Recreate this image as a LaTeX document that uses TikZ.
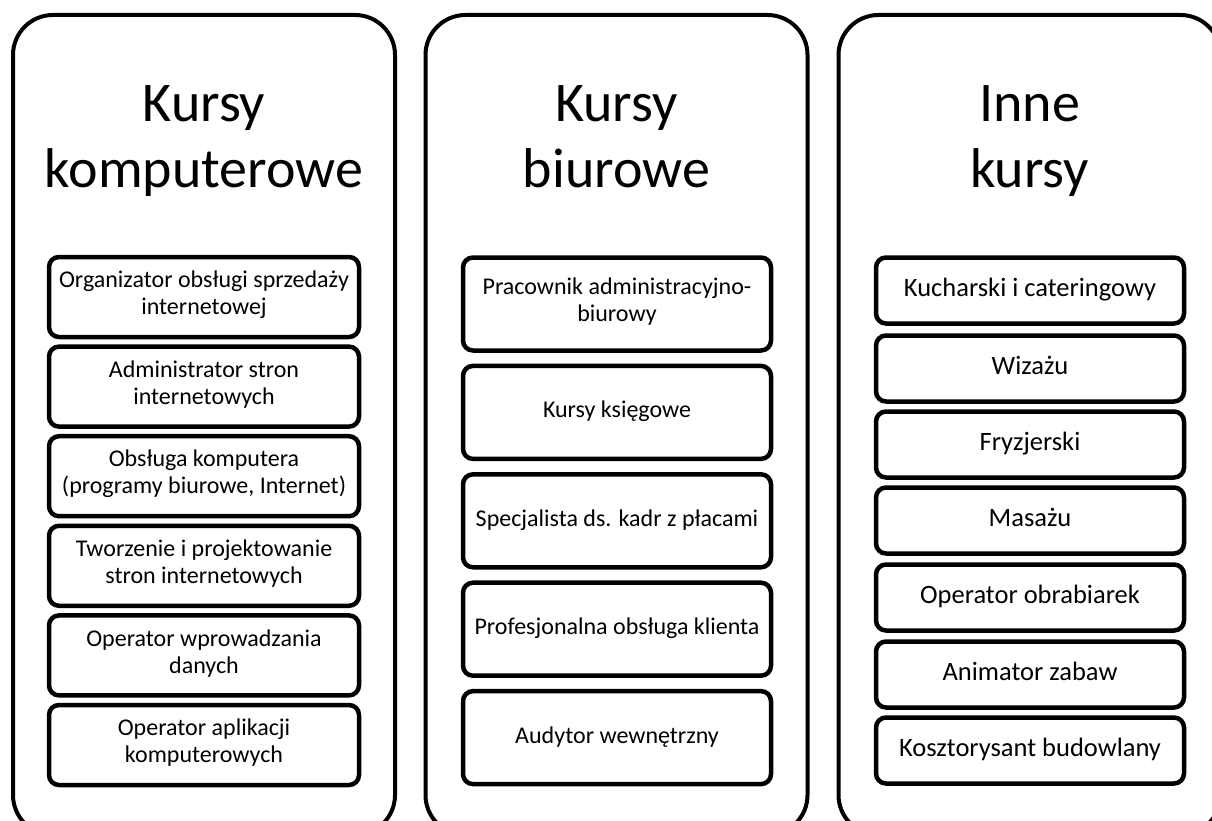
\documentclass[tikz,border=0pt]{standalone}
\usepackage{fontspec}
\setmainfont{Carlito}
\begin{document}
\begin{tikzpicture}[x=1pt,y=-1pt,
  outerbox/.style={draw=black, line width=4pt, rounded corners=40pt, minimum width=382pt, minimum height=820pt, inner sep=0pt},
  coltitle/.style={align=center, inner sep=0pt, anchor=north, font=\fontsize{56}{66}\selectfont},
  itembase/.style={draw=black, line width=4.5pt, rounded corners=10pt, align=center, inner sep=0pt,
     execute at begin node=\strut, execute at end node=\strut},
  itemL/.style={itembase, minimum width=310pt, minimum height=80pt, font=\fontsize{24}{27}\selectfont},
  itemM/.style={itembase, minimum width=308pt, minimum height=93pt, font=\fontsize{24}{27}\selectfont},
  itemR/.style={itembase, minimum width=308pt, minimum height=66pt, font=\fontsize{26.5}{32}\selectfont}
]
\useasboundingbox (0,0) rectangle (1212,821);
\fill[white] (0,0) rectangle (1212,821);
\clip (0,0) rectangle (1212,821);

% outer containers
\node[outerbox] (colA) at (204,425) {};
\node[outerbox] (colB) at (616.5,425) {};
\node[outerbox] (colC) at (1029.5,425) {};

% titles
\node[coltitle] (titleA) at (204,74.8) {\strut Kursy\\komputerowe};
\node[coltitle] (titleB) at (616.5,74.8) {\strut Kursy\\biurowe};
\node[coltitle] (titleC) at (1029.5,74.8) {\strut Inne\\kursy};

% left column
\node[itemL] (a1) at (204,297) {Organizator obsługi sprzedaży\\internetowej};
\node[itemL] (a2) at (204,386.6) {Administrator stron\\internetowych};
\node[itemL] (a3) at (204,476.2) {Obsługa komputera\\(programy biurowe, Internet)};
\node[itemL] (a4) at (204,565.8) {Tworzenie i projektowanie\\stron internetowych};
\node[itemL] (a5) at (204,655.4) {Operator wprowadzania\\danych};
\node[itemL] (a6) at (204,745) {Operator aplikacji\\komputerowych};

% middle column
\node[itemM] (b1) at (617,304) {Pracownik administracyjno-\\biurowy};
\node[itemM] (b2) at (617,412.4) {Kursy księgowe};
\node[itemM] (b3) at (617,520.8) {Specjalista ds. kadr z płacami};
\node[itemM] (b4) at (617,629.2) {Profesjonalna obsługa klienta};
\node[itemM] (b5) at (617,737.6) {Audytor wewnętrzny};

% right column
\node[itemR] (c1) at (1030,290.5) {Kucharski i cateringowy};
\node[itemR] (c2) at (1030,368.5) {Wizażu};
\node[itemR] (c3) at (1030,444.5) {Fryzjerski};
\node[itemR] (c4) at (1030,520.5) {Masażu};
\node[itemR] (c5) at (1030,597.5) {Operator obrabiarek};
\node[itemR] (c6) at (1030,674.5) {Animator zabaw};
\node[itemR] (c7) at (1030,750.5) {Kosztorysant budowlany};
\end{tikzpicture}
\end{document}
